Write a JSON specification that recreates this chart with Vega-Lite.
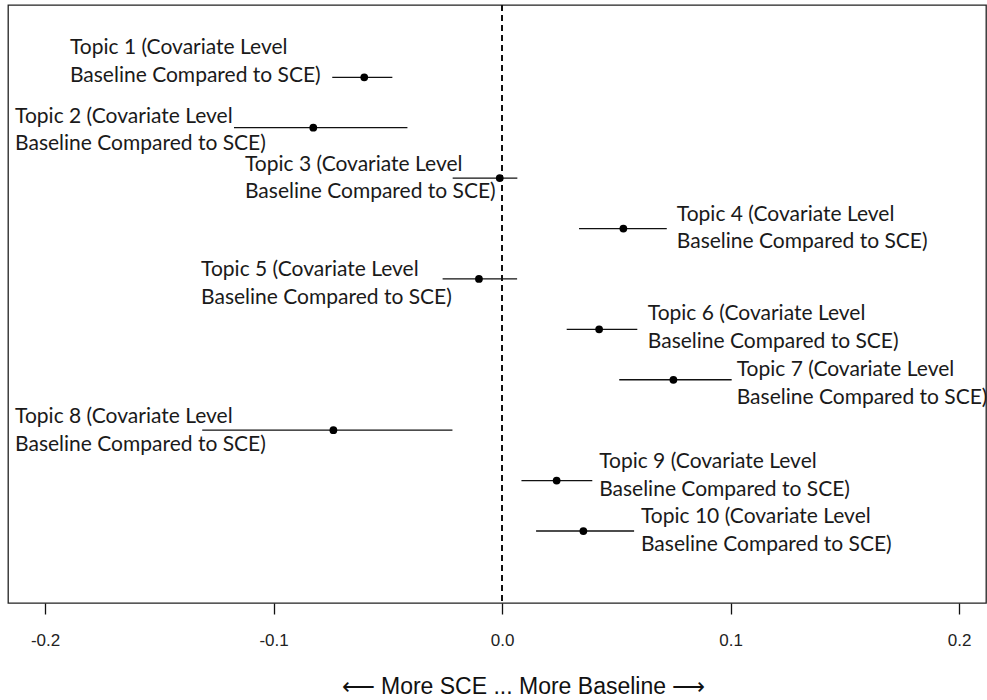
{
  "$schema": "https://vega.github.io/schema/vega-lite/v6.json",
  "width": 978,
  "height": 598,
  "autosize": {"type": "none"},
  "padding": {"left": 8, "top": 5, "right": 1, "bottom": 97},
  "background": "white",
  "config": {
    "view": {"stroke": "#222222", "strokeWidth": 1.3},
    "text": {"font": "Lato", "fontSize": 21, "color": "#1a1a1a", "lineBreak": "\n", "lineHeight": 27.7}
  },
  "data": {
    "values": [
      {"topic": 1, "est": -0.0603, "lo": -0.0743, "hi": -0.0480, "label_x": -0.1891, "label_y": 0.538, "label": "Topic 1 (Covariate Level\nBaseline Compared to SCE)"},
      {"topic": 2, "est": -0.0826, "lo": -0.1173, "hi": -0.0414, "label_x": -0.2131, "label_y": 1.900, "label": "Topic 2 (Covariate Level\nBaseline Compared to SCE)"},
      {"topic": 3, "est": -0.0010, "lo": -0.0216, "hi": 0.0067, "label_x": -0.1125, "label_y": 2.853, "label": "Topic 3 (Covariate Level\nBaseline Compared to SCE)"},
      {"topic": 4, "est": 0.0531, "lo": 0.0337, "hi": 0.0721, "label_x": 0.0765, "label_y": 3.845, "label": "Topic 4 (Covariate Level\nBaseline Compared to SCE)"},
      {"topic": 5, "est": -0.0101, "lo": -0.0260, "hi": 0.0066, "label_x": -0.1317, "label_y": 4.942, "label": "Topic 5 (Covariate Level\nBaseline Compared to SCE)"},
      {"topic": 6, "est": 0.0425, "lo": 0.0283, "hi": 0.0592, "label_x": 0.0638, "label_y": 5.815, "label": "Topic 6 (Covariate Level\nBaseline Compared to SCE)"},
      {"topic": 7, "est": 0.0750, "lo": 0.0513, "hi": 0.1005, "label_x": 0.1027, "label_y": 6.925, "label": "Topic 7 (Covariate Level\nBaseline Compared to SCE)"},
      {"topic": 8, "est": -0.0738, "lo": -0.1312, "hi": -0.0217, "label_x": -0.2131, "label_y": 7.864, "label": "Topic 8 (Covariate Level\nBaseline Compared to SCE)"},
      {"topic": 9, "est": 0.0239, "lo": 0.0085, "hi": 0.0395, "label_x": 0.0425, "label_y": 8.756, "label": "Topic 9 (Covariate Level\nBaseline Compared to SCE)"},
      {"topic": 10, "est": 0.0356, "lo": 0.0149, "hi": 0.0578, "label_x": 0.0608, "label_y": 9.848, "label": "Topic 10 (Covariate Level\nBaseline Compared to SCE)"}
    ]
  },
  "layer": [
    {
      "mark": {"type": "rule", "color": "#111111", "strokeWidth": 1, "strokeDash": [6, 4]},
      "encoding": {
        "x": {
          "datum": 0,
          "type": "quantitative",
          "scale": {"domain": [-0.2162, 0.2118], "nice": false, "zero": false},
          "axis": {
            "values": [-0.2, -0.1, 0, 0.1, 0.2],
            "format": ".1f",
            "labelExpr": "replace(datum.label, '−', '-')",
            "grid": false,
            "domain": false,
            "ticks": true,
            "tickSize": 11,
            "tickColor": "#111111",
            "tickWidth": 1.3,
            "labelFont": "Liberation Sans",
            "labelFontSize": 17,
            "labelColor": "#222222",
            "labelPadding": 18,
            "title": "⟵ More SCE ... More Baseline ⟶",
            "titleFont": "Liberation Sans",
            "titleFontSize": 23,
            "titleFontWeight": "normal",
            "titleColor": "#111111",
            "titleBaseline": "alphabetic",
            "titleAnchor": "start",
            "titleAlign": "center",
            "titleX": 515,
            "titleY": 90
          }
        }
      }
    },
    {
      "mark": {"type": "rule", "color": "#111111", "strokeWidth": 1.3},
      "encoding": {
        "x": {"field": "lo", "type": "quantitative"},
        "x2": {"field": "hi"},
        "y": {
          "field": "topic",
          "type": "quantitative",
          "scale": {"domain": [-0.434, 11.428], "reverse": true, "nice": false, "zero": false},
          "axis": null
        }
      }
    },
    {
      "mark": {"type": "point", "shape": "circle", "filled": true, "color": "#000000", "opacity": 1, "size": 60},
      "encoding": {
        "x": {"field": "est", "type": "quantitative"},
        "y": {"field": "topic", "type": "quantitative"}
      }
    },
    {
      "mark": {"type": "text", "align": "left", "baseline": "alphabetic"},
      "encoding": {
        "x": {"field": "label_x", "type": "quantitative"},
        "y": {"field": "label_y", "type": "quantitative"},
        "text": {"field": "label"}
      }
    }
  ]
}
